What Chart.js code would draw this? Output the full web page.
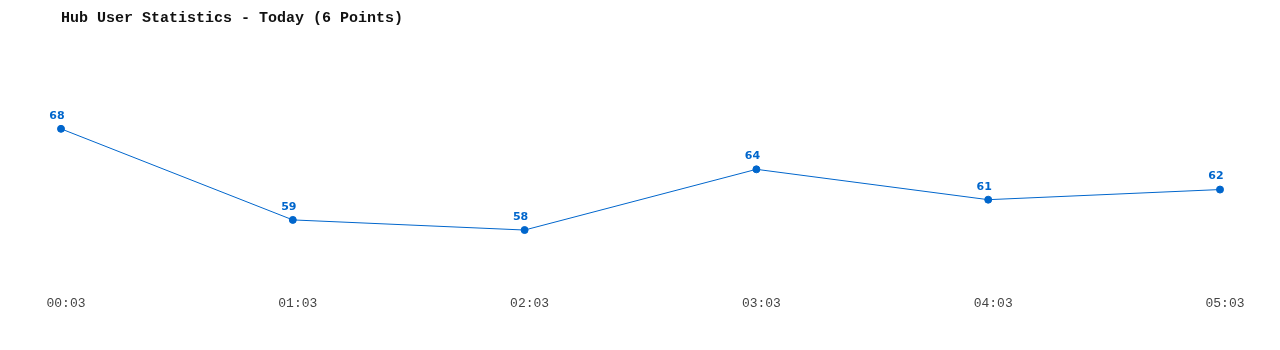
<!DOCTYPE html>
<html>
<head>
<meta charset="utf-8">
<script src="https://cdn.jsdelivr.net/npm/chart.js@4/dist/chart.umd.min.js"></script>
<style>
  html, body { margin: 0; padding: 0; background: #fff; }
  #wrap { width: 1280px; height: 350px; }
</style>
</head>
<body>
<div id="wrap"><canvas id="hubChart"></canvas></div>
<script>
const times = ['00:03', '01:03', '02:03', '03:03', '04:03', '05:03'];
const users = [68, 59, 58, 64, 61, 62];
const lineColor = '#0066cc';

// draws the value above each point
const valueLabels = {
    id: 'valueLabels',
    afterDatasetsDraw(chart) {
        const ctx = chart.ctx;
        const meta = chart.getDatasetMeta(0);
        ctx.save();
        ctx.font = 'bold 11px "DejaVu Sans", Verdana, sans-serif';
        ctx.fillStyle = lineColor;
        ctx.textAlign = 'center';
        ctx.textBaseline = 'middle';
        meta.data.forEach((pt, i) => {
            ctx.fillText(users[i], pt.x - 4, pt.y - 13);
        });
        ctx.restore();
    }
};

const ctx = document.getElementById('hubChart').getContext('2d');
new Chart(ctx, {
    type: 'line',
    data: {
        labels: times,
        datasets: [{
            label: 'Users',
            data: users,
            borderColor: lineColor,
            backgroundColor: lineColor,
            borderWidth: 1,
            pointRadius: 3.5,
            pointHoverRadius: 3.5,
            tension: 0,
            fill: false
        }]
    },
    options: {
        responsive: true,
        maintainAspectRatio: false,
        animation: false,
        layout: { padding: { left: 61, right: 60, top: 9, bottom: 4 } },
        plugins: {
            legend: { display: false },
            tooltip: { enabled: false },
            title: {
                display: true,
                text: 'Hub User Statistics - Today (6 Points)',
                align: 'start',
                color: '#111',
                font: { family: '"Liberation Mono", "DejaVu Sans Mono", monospace', size: 15, weight: 'bold', lineHeight: 1.2 },
                padding: { top: 0, bottom: 31 }
            }
        },
        scales: {
            x: {
                grid: { display: false, drawTicks: false },
                border: { display: false },
                ticks: {
                    color: '#444',
                    padding: 35,
                    labelOffset: 5,
                    maxRotation: 0,
                    font: { family: '"Liberation Mono", "DejaVu Sans Mono", monospace', size: 13, lineHeight: 1.2 }
                }
            },
            y: {
                display: false,
                min: 55,
                max: 75
            }
        }
    },
    plugins: [valueLabels]
});
</script>
</body>
</html>
